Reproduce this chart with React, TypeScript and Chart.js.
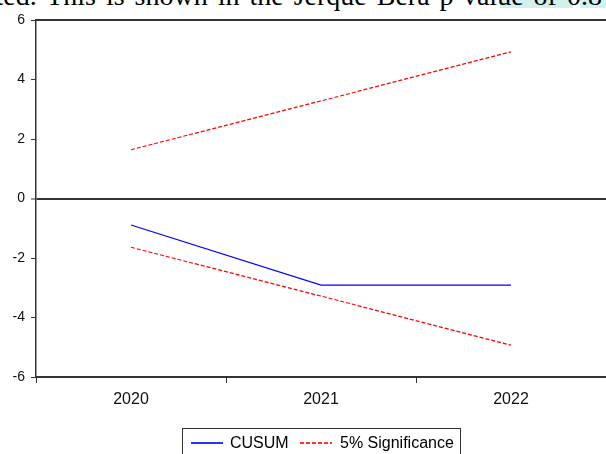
import React, { useEffect, useRef } from "react";
import { Chart, registerables } from "chart.js";

Chart.register(...registerables);

const years = ["2020", "2021", "2022"];
const cusum = [-0.89, -2.91, -2.91];
const upper5 = [1.64, 3.28, 4.93];
const lower5 = [-1.64, -3.28, -4.93];
const yTicks = [-6, -4, -2, 0, 2, 4, 6];
const legendLabels = ["CUSUM", "5% Significance"];

const SANS = "'Liberation Sans Narrow', 'Arial Narrow', 'Liberation Sans', Arial, sans-serif";

const framePlugin = {
  id: "frame",
  afterDraw(chart: any) {
    const { ctx, chartArea } = chart;
    ctx.save();
    ctx.strokeStyle = "#333";
    ctx.lineWidth = 2;
    ctx.beginPath();
    ctx.moveTo(chartArea.left, chartArea.top);
    ctx.lineTo(chartArea.right, chartArea.top);
    ctx.stroke();
    ctx.restore();
  },
};

export default function App() {
  const ref = useRef<HTMLCanvasElement>(null);

  useEffect(() => {
    if (!ref.current) return;
    const chart = new Chart(ref.current, {
      type: "line",
      data: {
        labels: years,
        datasets: [
          {
            label: legendLabels[0],
            data: cusum,
            borderColor: "#0000ff",
            borderWidth: 1.2,
            pointRadius: 0,
            fill: false,
          },
          {
            label: legendLabels[1],
            data: upper5,
            borderColor: "#ff0000",
            borderWidth: 1.2,
            borderDash: [4, 2],
            pointRadius: 0,
            fill: false,
          },
          {
            label: legendLabels[1] + " (lower)",
            data: lower5,
            borderColor: "#ff0000",
            borderWidth: 1.2,
            borderDash: [4, 2],
            pointRadius: 0,
            fill: false,
          },
        ],
      },
      options: {
        responsive: false,
        animation: false,
        layout: { padding: { top: 20, right: 0, bottom: 0, left: 0 } },
        plugins: {
          legend: { display: false },
          tooltip: { enabled: false },
        },
        scales: {
          x: {
            type: "category",
            offset: true,
            grid: {
              offset: true,
              drawOnChartArea: false,
              drawTicks: true,
              tickLength: 6,
              tickColor: "#333",
              tickWidth: 1,
            },
            border: { display: true, color: "#333", width: 2 },
            ticks: {
              color: "#111",
              font: { family: SANS, size: 16 },
              padding: 7,
              maxRotation: 0,
            },
            afterFit(scale: any) {
              scale.height = 77;
            },
          },
          y: {
            min: -6,
            max: 6,
            afterBuildTicks(scale: any) {
              scale.ticks = yTicks.map((v) => ({ value: v }));
            },
            grid: {
              drawOnChartArea: true,
              color: (c: any) => (c.tick && c.tick.value === 0 ? "#333" : "rgba(0,0,0,0)"),
              lineWidth: (c: any) => (c.tick && c.tick.value === 0 ? 2 : 1),
              tickColor: "#333",
              tickWidth: 1,
              tickLength: 5,
            },
            border: { display: true, color: "#333", width: 1.5 },
            ticks: {
              color: "#111",
              font: { family: SANS, size: 14 },
              padding: 6,
            },
            afterFit(scale: any) {
              scale.width = 36;
            },
          },
        },
      },
      plugins: [framePlugin],
    });
    return () => chart.destroy();
  }, []);

  const legendText: React.CSSProperties = {
    position: "absolute",
    top: 435,
    fontFamily: SANS,
    fontSize: 16,
    lineHeight: "16px",
    color: "#000",
    whiteSpace: "nowrap",
  };

  return (
    <div
      style={{
        position: "absolute",
        left: 0,
        top: 0,
        width: 606,
        height: 454,
        overflow: "hidden",
        background: "#fff",
      }}
    >
      <div style={{ position: "absolute", left: 500, top: 0, width: 73, height: 8, background: "#d2f1ee" }} />
      <div style={{ position: "absolute", left: 580, top: 0, width: 26, height: 8, background: "#d2f1ee" }} />
      <div
        style={{
          position: "absolute",
          left: -17,
          top: -18,
          whiteSpace: "nowrap",
          fontFamily: "'Liberation Serif', 'Times New Roman', serif",
          fontSize: 28,
          lineHeight: "28px",
          wordSpacing: 3,
          color: "#000",
        }}
      >
        ated. This is shown in the Jerque Bera p-value of 0.8
      </div>
      <canvas ref={ref} width={606} height={454} style={{ position: "absolute", left: 0, top: 0 }} />
      <div
        style={{
          position: "absolute",
          left: 182,
          top: 428,
          width: 279,
          height: 40,
          border: "1px solid #333",
          boxSizing: "border-box",
        }}
      />
      <div style={{ position: "absolute", left: 191, top: 442, width: 32, height: 2, background: "#3030ff" }} />
      <div style={{ ...legendText, left: 230 }}>{legendLabels[0]}</div>
      <div
        style={{
          position: "absolute",
          left: 300,
          top: 442,
          width: 32,
          height: 2,
          background: "repeating-linear-gradient(to right, #ff3030 0px, #ff3030 4px, transparent 4px, transparent 6px)",
        }}
      />
      <div style={{ ...legendText, left: 340 }}>{legendLabels[1]}</div>
    </div>
  );
}
